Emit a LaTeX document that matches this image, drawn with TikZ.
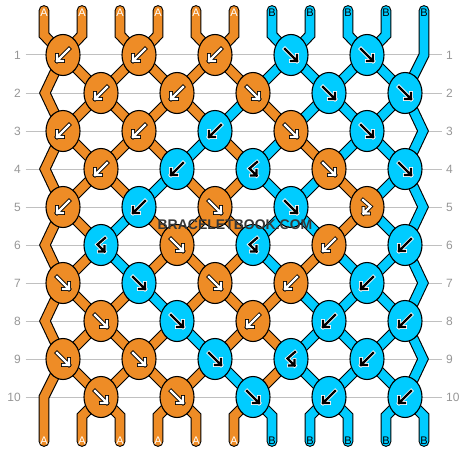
\documentclass[tikz,border=0pt]{standalone}
\usepackage{fontspec}
\setmainfont{Liberation Sans}
\usetikzlibrary{shapes}

\definecolor{knotorange}{RGB}{238,140,38}
\definecolor{knotcyan}{RGB}{0,204,255}
\definecolor{rowgray}{RGB}{150,150,150}
\definecolor{linegray}{RGB}{192,192,192}
\definecolor{wmgray}{RGB}{55,55,55}

\pgfdeclarelayer{back}
\pgfsetlayers{back,main}

\tikzset{
  knotA/.style={shape=ellipse,draw=black,line width=1.1pt,fill=knotorange,minimum width=34pt,minimum height=41pt,inner sep=0pt},
  knotB/.style={knotA,fill=knotcyan},
  strandA/.style={draw=black,line width=1.1pt,double=knotorange,double distance=8.6pt,line cap=round},
  strandB/.style={strandA,double=knotcyan},
  arrowA/.style={draw=black,double=white,line width=0.8pt,double distance=2.3pt,line cap=rect},
  arrowB/.style={arrowA,draw=white,double=black},
  tagA/.style={text=white,font=\fontsize{11}{11}\selectfont,inner sep=0pt},
  tagB/.style={tagA,text=black},
  rownum/.style={text=rowgray,font=\fontsize{12}{12}\selectfont,inner xsep=4.5pt,inner ysep=0pt},
  gridline/.style={draw=linegray,line width=1pt},
  wmtext/.style={font=\fontsize{14}{14}\selectfont\bfseries,inner sep=0pt},
  pics/bwd/.style={code={\draw[#1] (6,-6) -- (-6,6) (-6,0) -- (-6,6) -- (0,6);}},
  pics/fwd/.style={code={\draw[#1] (-6,-6) -- (6,6) (6,0) -- (6,6) -- (0,6);}},
  pics/bf/.style={code={\draw[#1] (4,-7) -- (-3.5,-0.5) -- (3.5,6.5) (3.5,1) -- (3.5,6.5) -- (-2,6.5);}},
  pics/fb/.style={code={\draw[#1] (-4,-7) -- (3.5,-0.5) -- (-3.5,6.5) (-3.5,1) -- (-3.5,6.5) -- (2,6.5);}},
}

\begin{document}
\begin{tikzpicture}[x=1pt,y=-1pt]
\useasboundingbox (0,0) rectangle (468,452);

% row numbers
\node[rownum,anchor=east] (nl1) at (25.5,55) {1};
\node[rownum,anchor=east] (nl2) at (25.5,93) {2};
\node[rownum,anchor=east] (nl3) at (25.5,131) {3};
\node[rownum,anchor=east] (nl4) at (25.5,169) {4};
\node[rownum,anchor=east] (nl5) at (25.5,207) {5};
\node[rownum,anchor=east] (nl6) at (25.5,245) {6};
\node[rownum,anchor=east] (nl7) at (25.5,283) {7};
\node[rownum,anchor=east] (nl8) at (25.5,321) {8};
\node[rownum,anchor=east] (nl9) at (25.5,359) {9};
\node[rownum,anchor=east] (nl10) at (25.5,397) {10};
\node[rownum,anchor=west] (nr1) at (441.5,55) {1};
\node[rownum,anchor=west] (nr2) at (441.5,93) {2};
\node[rownum,anchor=west] (nr3) at (441.5,131) {3};
\node[rownum,anchor=west] (nr4) at (441.5,169) {4};
\node[rownum,anchor=west] (nr5) at (441.5,207) {5};
\node[rownum,anchor=west] (nr6) at (441.5,245) {6};
\node[rownum,anchor=west] (nr7) at (441.5,283) {7};
\node[rownum,anchor=west] (nr8) at (441.5,321) {8};
\node[rownum,anchor=west] (nr9) at (441.5,359) {9};
\node[rownum,anchor=west] (nr10) at (441.5,397) {10};

% string ends and edge turns
\coordinate (t1) at (44,10.5);  \coordinate (b1) at (44,441.5);
\coordinate (t2) at (82,10.5);  \coordinate (b2) at (82,441.5);
\coordinate (t3) at (120,10.5); \coordinate (b3) at (120,441.5);
\coordinate (t4) at (158,10.5); \coordinate (b4) at (158,441.5);
\coordinate (t5) at (196,10.5); \coordinate (b5) at (196,441.5);
\coordinate (t6) at (234,10.5); \coordinate (b6) at (234,441.5);
\coordinate (t7) at (272,10.5); \coordinate (b7) at (272,441.5);
\coordinate (t8) at (310,10.5); \coordinate (b8) at (310,441.5);
\coordinate (t9) at (348,10.5); \coordinate (b9) at (348,441.5);
\coordinate (t10) at (386,10.5); \coordinate (b10) at (386,441.5);
\coordinate (t11) at (424,10.5); \coordinate (b11) at (424,441.5);
\coordinate (l2) at (45,93);
\coordinate (l4) at (45,169);
\coordinate (l6) at (45,245);
\coordinate (l8) at (45,321);
\coordinate (l10) at (44,397);
\coordinate (r1) at (424,55);
\coordinate (r3) at (423,131);
\coordinate (r5) at (423,207);
\coordinate (r7) at (423,283);
\coordinate (r9) at (423,359);

% knots
\node[knotA] (0) at (63,55) {};   \pic at (0) {bwd=arrowA};
\node[knotA] (1) at (139,55) {};  \pic at (1) {bwd=arrowA};
\node[knotA] (2) at (215,55) {};  \pic at (2) {bwd=arrowA};
\node[knotB] (3) at (291,55) {};  \pic at (3) {fwd=arrowB};
\node[knotB] (4) at (367,55) {};  \pic at (4) {fwd=arrowB};
\node[knotA] (5) at (101,93) {};  \pic at (5) {bwd=arrowA};
\node[knotA] (6) at (177,93) {};  \pic at (6) {bwd=arrowA};
\node[knotA] (7) at (253,93) {};  \pic at (7) {fwd=arrowA};
\node[knotB] (8) at (329,93) {};  \pic at (8) {fwd=arrowB};
\node[knotB] (9) at (405,93) {};  \pic at (9) {fwd=arrowB};
\node[knotA] (10) at (63,131) {};  \pic at (10) {bwd=arrowA};
\node[knotA] (11) at (139,131) {}; \pic at (11) {bwd=arrowA};
\node[knotB] (12) at (215,131) {}; \pic at (12) {bwd=arrowB};
\node[knotA] (13) at (291,131) {}; \pic at (13) {fwd=arrowA};
\node[knotB] (14) at (367,131) {}; \pic at (14) {fwd=arrowB};
\node[knotA] (15) at (101,169) {}; \pic at (15) {bwd=arrowA};
\node[knotB] (16) at (177,169) {}; \pic at (16) {bwd=arrowB};
\node[knotB] (17) at (253,169) {}; \pic at (17) {bf=arrowB};
\node[knotA] (18) at (329,169) {}; \pic at (18) {fwd=arrowA};
\node[knotB] (19) at (405,169) {}; \pic at (19) {fwd=arrowB};
\node[knotA] (20) at (63,207) {};  \pic at (20) {bwd=arrowA};
\node[knotB] (21) at (139,207) {}; \pic at (21) {bwd=arrowB};
\node[knotA] (22) at (215,207) {}; \pic at (22) {fwd=arrowA};
\node[knotB] (23) at (291,207) {}; \pic at (23) {fwd=arrowB};
\node[knotA] (24) at (367,207) {}; \pic at (24) {fb=arrowA};
\node[knotB] (25) at (101,245) {}; \pic at (25) {bf=arrowB};
\node[knotA] (26) at (177,245) {}; \pic at (26) {fwd=arrowA};
\node[knotB] (27) at (253,245) {}; \pic at (27) {bf=arrowB};
\node[knotA] (28) at (329,245) {}; \pic at (28) {bwd=arrowA};
\node[knotB] (29) at (405,245) {}; \pic at (29) {bwd=arrowB};
\node[knotA] (30) at (63,283) {};  \pic at (30) {fwd=arrowA};
\node[knotB] (31) at (139,283) {}; \pic at (31) {fwd=arrowB};
\node[knotA] (32) at (215,283) {}; \pic at (32) {fwd=arrowA};
\node[knotA] (33) at (291,283) {}; \pic at (33) {bwd=arrowA};
\node[knotB] (34) at (367,283) {}; \pic at (34) {bwd=arrowB};
\node[knotA] (35) at (101,321) {}; \pic at (35) {fwd=arrowA};
\node[knotB] (36) at (177,321) {}; \pic at (36) {fwd=arrowB};
\node[knotA] (37) at (253,321) {}; \pic at (37) {bwd=arrowA};
\node[knotB] (38) at (329,321) {}; \pic at (38) {bwd=arrowB};
\node[knotB] (39) at (405,321) {}; \pic at (39) {bwd=arrowB};
\node[knotA] (40) at (63,359) {};  \pic at (40) {fwd=arrowA};
\node[knotA] (41) at (139,359) {}; \pic at (41) {fwd=arrowA};
\node[knotB] (42) at (215,359) {}; \pic at (42) {fwd=arrowB};
\node[knotB] (43) at (291,359) {}; \pic at (43) {bf=arrowB};
\node[knotB] (44) at (367,359) {}; \pic at (44) {bwd=arrowB};
\node[knotA] (45) at (101,397) {}; \pic at (45) {fwd=arrowA};
\node[knotA] (46) at (177,397) {}; \pic at (46) {fwd=arrowA};
\node[knotB] (47) at (253,397) {}; \pic at (47) {fwd=arrowB};
\node[knotB] (48) at (329,397) {}; \pic at (48) {bwd=arrowB};
\node[knotB] (49) at (405,397) {}; \pic at (49) {bwd=arrowB};

\begin{pgfonlayer}{back}
% row lines
\draw[gridline] (nl1) -- (nr1);
\draw[gridline] (nl2) -- (nr2);
\draw[gridline] (nl3) -- (nr3);
\draw[gridline] (nl4) -- (nr4);
\draw[gridline] (nl5) -- (nr5);
\draw[gridline] (nl6) -- (nr6);
\draw[gridline] (nl7) -- (nr7);
\draw[gridline] (nl8) -- (nr8);
\draw[gridline] (nl9) -- (nr9);
\draw[gridline] (nl10) -- (nr10);
% strings
\draw[strandA] (t1) -- ++(0,24.5) -- (0.center) -- (5.center) -- (11.center) -- (16.center) -- (22.center) -- (27.center) -- (32.center) -- (36.center) -- (41.center) -- (45.center) -- ++(-19,19) -- (b2);
\draw[strandA] (t2) -- ++(0,24.5) -- (0.center) -- (l2) -- (10.center) -- (15.center) -- (21.center) -- (26.center) -- (32.center) -- (37.center) -- (43.center) -- (47.center) -- ++(-19,19) -- (b6);
\draw[strandA] (t3) -- ++(0,24.5) -- (1.center) -- (6.center) -- (12.center) -- (17.center) -- (22.center) -- (26.center) -- (31.center) -- (35.center) -- (40.center) -- (l10) -- (b1);
\draw[strandA] (t4) -- ++(0,24.5) -- (1.center) -- (5.center) -- (10.center) -- (l4) -- (20.center) -- (25.center) -- (30.center) -- (l8) -- (40.center) -- (45.center) -- ++(19,19) -- (b3);
\draw[strandA] (t5) -- ++(0,24.5) -- (2.center) -- (7.center) -- (13.center) -- (18.center) -- (24.center) -- (28.center) -- (33.center) -- (37.center) -- (42.center) -- (46.center) -- ++(-19,19) -- (b4);
\draw[strandA] (t6) -- ++(0,24.5) -- (2.center) -- (6.center) -- (11.center) -- (15.center) -- (20.center) -- (l6) -- (30.center) -- (35.center) -- (41.center) -- (46.center) -- ++(19,19) -- (b5);
\draw[strandB] (t7) -- ++(0,24.5) -- (3.center) -- (8.center) -- (14.center) -- (19.center) -- (r5) -- (29.center) -- (34.center) -- (38.center) -- (43.center) -- (48.center) -- ++(19,19) -- (b9);
\draw[strandB] (t8) -- ++(0,24.5) -- (3.center) -- (7.center) -- (12.center) -- (16.center) -- (21.center) -- (25.center) -- (31.center) -- (36.center) -- (42.center) -- (47.center) -- ++(19,19) -- (b7);
\draw[strandB] (t9) -- ++(0,24.5) -- (4.center) -- (9.center) -- (r3) -- (19.center) -- (24.center) -- (29.center) -- (r7) -- (39.center) -- (44.center) -- (48.center) -- ++(-19,19) -- (b8);
\draw[strandB] (t10) -- ++(0,24.5) -- (4.center) -- (8.center) -- (13.center) -- (17.center) -- (23.center) -- (28.center) -- (34.center) -- (39.center) -- (r9) -- (49.center) -- ++(-19,19) -- (b10);
\draw[strandB] (t11) -- (r1) -- (9.center) -- (14.center) -- (18.center) -- (23.center) -- (27.center) -- (33.center) -- (38.center) -- (44.center) -- (49.center) -- ++(19,19) -- (b11);
\end{pgfonlayer}

% string tags
\node[tagA] (a1) at (44,12.3) {A};   \node[tagA] (z1) at (44,441) {A};
\node[tagA] (a2) at (82,12.3) {A};   \node[tagA] (z2) at (82,441) {A};
\node[tagA] (a3) at (120,12.3) {A};  \node[tagA] (z3) at (120,441) {A};
\node[tagA] (a4) at (158,12.3) {A};  \node[tagA] (z4) at (158,441) {A};
\node[tagA] (a5) at (196,12.3) {A};  \node[tagA] (z5) at (196,441) {A};
\node[tagA] (a6) at (234,12.3) {A};  \node[tagA] (z6) at (234,441) {A};
\node[tagB] (a7) at (272,12.3) {B};  \node[tagB] (z7) at (272,441) {B};
\node[tagB] (a8) at (310,12.3) {B};  \node[tagB] (z8) at (310,441) {B};
\node[tagB] (a9) at (348,12.3) {B};  \node[tagB] (z9) at (348,441) {B};
\node[tagB] (a10) at (386,12.3) {B}; \node[tagB] (z10) at (386,441) {B};
\node[tagB] (a11) at (424,12.3) {B}; \node[tagB] (z11) at (424,441) {B};

% watermark
\node[wmtext,text=wmgray] (wm) at (235,225) {BRACELETBOOK.COM};
\end{tikzpicture}
\end{document}
